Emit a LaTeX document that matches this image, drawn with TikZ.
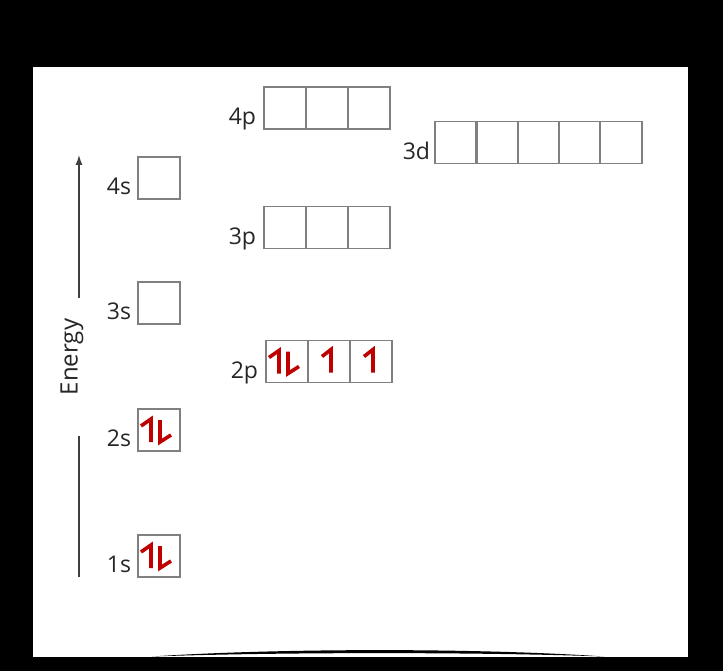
\documentclass[tikz,border=0pt]{standalone}
\usepackage{fontspec}
\setmainfont{Open Sans}
\usetikzlibrary{positioning,arrows.meta}

\begin{document}
\begin{tikzpicture}[>={Latex[length=10pt,width=7pt]}, x=1pt, y=-1pt,
  orb/.style={shape=rectangle, draw=black!50, line width=1.5pt, minimum size=42pt, inner sep=0pt},
  lbl/.style={inner sep=0pt, font=\fontsize{23}{27}\selectfont, text=black!85},
  elec/.style={draw=red!75!black, line width=3.6pt, line join=miter},
  spinpair/.pic={\draw [elec] (-8,12) -- (-8,-11) -- (-18,-4);
                 \draw [elec] (1,-10) -- (1,12) -- (12,5);},
  spinone/.pic={\draw [elec] (2,11) -- (2,-12) -- (-7,-5);}]

  \useasboundingbox (0,0) rectangle (723,671);
  \fill [black] (0,0) rectangle (723,671);
  \fill [white] (33,67) rectangle (688,657);
  \fill [black] (152,656.5) .. controls (280,648) and (480,648) .. (604,656.5)
    .. controls (480,652) and (280,652) .. cycle;

  % s orbitals
  \node (s1) at (159,556) [orb] {};
  \node (s2) at (159,430) [orb] {};
  \node (s3) at (159,303) [orb] {};
  \node (s4) at (159,178) [orb] {};

  % p and d orbitals
  \foreach \i in {0,1,2} {
    \node (pa\i) at (287+42*\i,361.5) [orb] {};
    \node (pb\i) at (285+42*\i,227.5) [orb] {};
    \node (pc\i) at (285+42*\i,108) [orb] {};
  }
  \foreach \i in {0,...,4}
    \node (d\i) at (456+41.2*\i,142.5) [orb] {};

  \node [lbl, anchor=base east] at ([xshift=-6pt,yshift=5pt]s1.south west) {1s};
  \node [lbl, anchor=base east] at ([xshift=-6pt,yshift=5pt]s2.south west) {2s};
  \node [lbl, anchor=base east] at ([xshift=-6pt,yshift=5pt]s3.south west) {3s};
  \node [lbl, anchor=base east] at ([xshift=-6pt,yshift=5pt]s4.south west) {4s};
  \node [lbl, anchor=base east] at ([xshift=-7pt,yshift=5pt]pa0.south west) {2p};
  \node [lbl, anchor=base east] at ([xshift=-7pt,yshift=5pt]pb0.south west) {3p};
  \node [lbl, anchor=base east] at ([xshift=-7pt,yshift=5pt]pc0.south west) {4p};
  \node [lbl, anchor=base east] at ([xshift=-4pt,yshift=5pt]d0.south west) {3d};

  % electrons
  \pic at (s1) {spinpair};
  \pic at (s2) {spinpair};
  \pic at (pa0) {spinpair};
  \pic at (pa1) {spinone};
  \pic at (pa2) {spinone};

  % energy axis
  \node (en) at (72,357) [lbl, rotate=90, font=\fontsize{24}{28}\selectfont] {Energy};
  \coordinate (e1) at (79,577);
  \coordinate (e2) at (79,436);
  \coordinate (e3) at (79,298);
  \coordinate (e4) at (79,155);
  \draw [black!75, line width=1.3pt] (e1) -- (e2);
  \draw [->, black!75, line width=1.3pt] (e3) -- (e4);

\end{tikzpicture}
\end{document}
